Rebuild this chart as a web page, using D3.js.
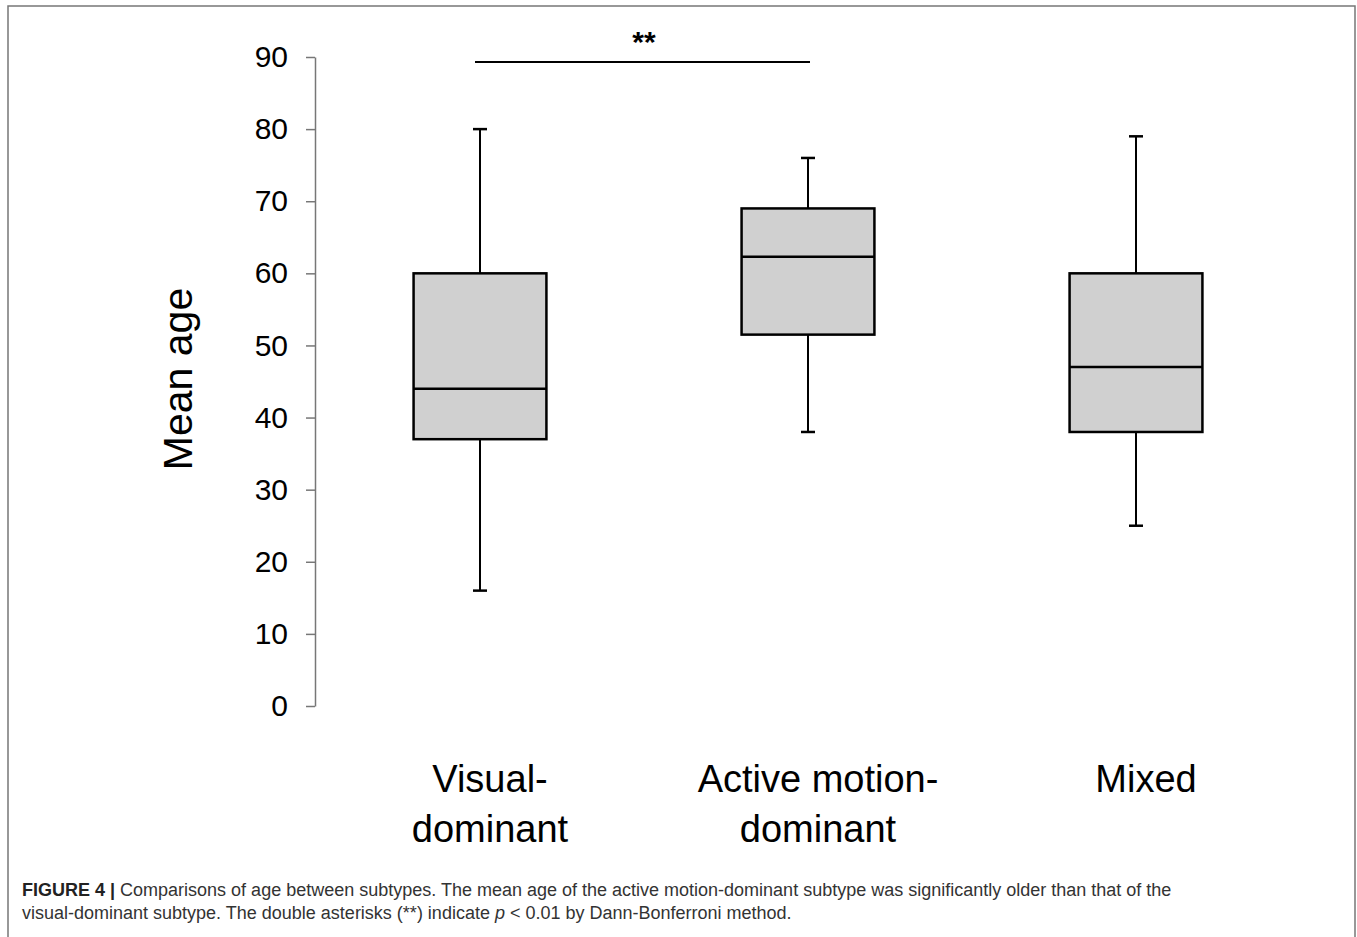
<!DOCTYPE html>
<html>
<head>
<meta charset="utf-8">
<script src="https://cdn.jsdelivr.net/npm/d3@7"></script>
<style>
  html, body { margin: 0; padding: 0; background: #fff; }
  svg { display: block; }
</style>
</head>
<body>
<div id="fig"></div>
<script>
// subtypes and their box-plot stats (mean age)
const categories = ["Visual-dominant", "Active motion-dominant", "Mixed"];
const labelLines = [["Visual-", "dominant"], ["Active motion-", "dominant"], ["Mixed"]];
const whiskerLow = [16, 38, 25];
const q1 = [37, 51.5, 38];
const median = [44, 62.3, 47];
const q3 = [60, 69, 60];
const whiskerHigh = [80, 76, 79];
const yTicks = [0, 10, 20, 30, 40, 50, 60, 70, 80, 90];

// significance bracket
const sigPair = ["Visual-dominant", "Active motion-dominant"];
const sigValue = 89.3;
const sigLabel = "**";

const captionLines = [
  ["FIGURE 4 | ", "Comparisons of age between subtypes. The mean age of the active motion-dominant subtype was significantly older than that of the"],
  ["", "visual-dominant subtype. The double asterisks (**) indicate ", "p", " < 0.01 by Dann-Bonferroni method."]
];

function drawFigure() {
    const W = 1357, H = 937;
    const font = "Arial, 'Liberation Sans', Helvetica, sans-serif";

    const svg = d3.select("#fig").append("svg")
        .attr("width", W)
        .attr("height", H);

    // frame around figure + caption (open at bottom)
    svg.append("path")
        .attr("d", "M8," + H + " L8,6 L1355,6 L1355," + H)
        .attr("fill", "none")
        .attr("stroke", "#777")
        .attr("stroke-width", 1.5);

    const y = d3.scaleLinear().domain([0, 90]).range([706, 57]);
    const x = d3.scaleBand().domain(categories).range([316, 1300]);
    const cx = d => x(d) + x.bandwidth() / 2;
    const boxW = x.bandwidth() * 0.405;
    const capW = 14;

    // y axis
    const yAxis = d3.axisLeft(y).tickValues(yTicks).tickSize(9).tickSizeOuter(0).tickPadding(18);
    const gy = svg.append("g")
        .attr("transform", "translate(315,0)")
        .call(yAxis);
    gy.select(".domain").attr("stroke", "#777").attr("stroke-width", 1.5);
    gy.selectAll(".tick line").attr("stroke", "#777").attr("stroke-width", 1.5);
    gy.selectAll(".tick text")
        .attr("fill", "#000")
        .style("font-family", font)
        .style("font-size", "30px");

    svg.append("text")
        .attr("transform", "translate(192,379) rotate(-90)")
        .attr("text-anchor", "middle")
        .style("font-family", font)
        .style("font-size", "41px")
        .attr("fill", "#000")
        .text("Mean age");

    const boxes = categories.map((c, i) => ({
        cat: c, lo: whiskerLow[i], q1: q1[i], med: median[i], q3: q3[i], hi: whiskerHigh[i], lines: labelLines[i]
    }));

    const g = svg.append("g").selectAll("g.box")
        .data(boxes)
        .join("g")
        .attr("class", "box");

    // whiskers
    g.append("line")
        .attr("x1", d => cx(d.cat)).attr("x2", d => cx(d.cat))
        .attr("y1", d => y(d.hi)).attr("y2", d => y(d.q3))
        .attr("stroke", "#000").attr("stroke-width", 2);
    g.append("line")
        .attr("x1", d => cx(d.cat)).attr("x2", d => cx(d.cat))
        .attr("y1", d => y(d.q1)).attr("y2", d => y(d.lo))
        .attr("stroke", "#000").attr("stroke-width", 2);
    g.append("line")
        .attr("x1", d => cx(d.cat) - capW / 2).attr("x2", d => cx(d.cat) + capW / 2)
        .attr("y1", d => y(d.hi)).attr("y2", d => y(d.hi))
        .attr("stroke", "#000").attr("stroke-width", 2.5);
    g.append("line")
        .attr("x1", d => cx(d.cat) - capW / 2).attr("x2", d => cx(d.cat) + capW / 2)
        .attr("y1", d => y(d.lo)).attr("y2", d => y(d.lo))
        .attr("stroke", "#000").attr("stroke-width", 2.5);

    // box
    g.append("rect")
        .attr("x", d => cx(d.cat) - boxW / 2)
        .attr("width", boxW)
        .attr("y", d => y(d.q3))
        .attr("height", d => y(d.q1) - y(d.q3))
        .attr("fill", "#d0d0d0")
        .attr("stroke", "#000")
        .attr("stroke-width", 2.5);
    g.append("line")
        .attr("x1", d => cx(d.cat) - boxW / 2).attr("x2", d => cx(d.cat) + boxW / 2)
        .attr("y1", d => y(d.med)).attr("y2", d => y(d.med))
        .attr("stroke", "#000").attr("stroke-width", 2.5);

    // category labels
    g.append("text")
        .attr("text-anchor", "middle")
        .attr("y", 792)
        .style("font-family", font)
        .style("font-size", "38px")
        .attr("fill", "#000")
        .selectAll("tspan")
        .data(d => d.lines.map(t => ({t: t, c: d.cat})))
        .join("tspan")
        .attr("x", d => cx(d.c) + 10)
        .attr("dy", (d, i) => i === 0 ? 0 : 50)
        .text(d => d.t);

    // significance bar
    svg.append("line")
        .attr("x1", cx(sigPair[0]) - 5).attr("x2", cx(sigPair[1]) + 2)
        .attr("y1", y(sigValue)).attr("y2", y(sigValue))
        .attr("stroke", "#000").attr("stroke-width", 2);
    svg.append("text")
        .attr("x", (cx(sigPair[0]) + cx(sigPair[1])) / 2)
        .attr("y", y(sigValue) - 10)
        .attr("text-anchor", "middle")
        .style("font-family", font)
        .style("font-size", "30px")
        .style("font-weight", "bold")
        .text(sigLabel);

    // caption
    const cap = svg.append("g")
        .style("font-family", "'Liberation Sans', Arial, sans-serif")
        .style("font-size", "18px")
        .attr("fill", "#333");
    captionLines.forEach((parts, li) => {
        const t = cap.append("text")
            .attr("x", 22)
            .attr("y", 896 + li * 23);
        parts.forEach((p, pi) => {
            if (!p) return;
            const ts = t.append("tspan").text(p);
            if (li === 0 && pi === 0) ts.style("font-weight", "bold").attr("fill", "#222");
            if (li === 1 && pi === 2) ts.style("font-style", "italic");
        });
    });
}
drawFigure();
</script>
</body>
</html>
